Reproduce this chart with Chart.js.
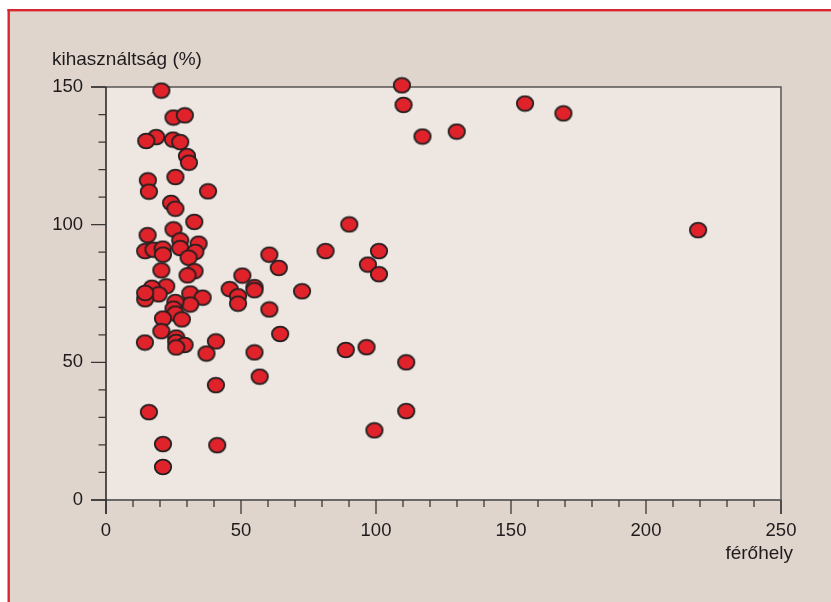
<!DOCTYPE html>
<html lang="hu">
<head>
<meta charset="utf-8">
<title>Férőhely és kihasználtság</title>
<script src="https://cdn.jsdelivr.net/npm/chart.js@4/dist/chart.umd.min.js"></script>
<style>
  html, body { margin: 0; padding: 0; background: #fff; }
  #wrap { position: relative; width: 831px; height: 602px; }
</style>
</head>
<body>
<div id="wrap"><canvas id="chart" width="831" height="602"></canvas></div>
<script>
  "use strict";

  // férőhely (x) és kihasználtság % (y)
  var ferohely = [
    20.5, 25.0, 29.2, 18.6, 14.9, 24.8, 27.5, 30.0, 30.7, 15.5,
    25.7, 15.9, 37.8, 24.1, 25.7, 32.7, 25.0, 15.4, 27.5, 27.5,
    34.3, 33.1, 14.5, 17.6, 21.0, 21.1, 30.6, 90.1, 60.5, 64.0,
    81.3, 101.1, 97.0, 101.1, 20.5, 32.8, 30.2, 50.5, 22.3, 17.0,
    19.5, 14.5, 14.5, 31.2, 35.8, 31.2, 25.7, 25.0, 25.7, 28.1,
    21.1, 45.8, 48.9, 48.9, 55.0, 55.0, 60.5, 72.6, 64.5, 20.5,
    26.0, 26.0, 29.1, 26.0, 14.4, 40.7, 37.2, 55.0, 88.8, 96.5,
    111.2, 56.9, 40.7, 15.9, 21.1, 41.2, 21.1, 111.2, 99.4, 109.6,
    110.2, 117.2, 129.9, 155.2, 169.4, 219.3
  ];
  var kihasznaltsag = [
    148.7, 138.9, 139.7, 131.8, 130.4, 130.9, 130.0, 124.9, 122.5, 116.1,
    117.3, 112.0, 112.1, 107.9, 105.8, 101.0, 98.3, 96.2, 94.3, 91.5,
    93.1, 90.1, 90.4, 90.9, 91.3, 89.1, 88.0, 100.1, 89.1, 84.3,
    90.4, 90.4, 85.5, 82.0, 83.4, 83.1, 81.6, 81.5, 77.6, 77.1,
    74.7, 72.9, 75.2, 75.0, 73.5, 71.0, 71.9, 69.5, 67.7, 65.6,
    65.9, 76.6, 74.0, 71.3, 77.3, 76.2, 69.2, 75.8, 60.3, 61.3,
    59.0, 57.4, 56.3, 55.4, 57.2, 57.6, 53.2, 53.6, 54.5, 55.5,
    50.0, 44.8, 41.7, 31.9, 20.3, 19.9, 12.0, 32.3, 25.3, 150.6,
    143.5, 132.0, 133.8, 144.0, 140.4, 98.0
  ];

  var xTitle = 'férőhely';
  var yTitle = 'kihasználtság (%)';
  var xRange = [0, 250];
  var yRange = [0, 150];
  var labelStep = 50;
  var tickStep = 10;

  var FONT = '"Liberation Sans", Arial, Helvetica, sans-serif';
  var TEXT = '#1f1b1c';

  // ellipszis alakú pont
  function makeDot() {
    var c = document.createElement('canvas');
    c.width = 20; c.height = 18;
    var g = c.getContext('2d');
    g.beginPath();
    g.ellipse(10, 9, 8.2, 7.4, 0, 0, Math.PI * 2);
    g.fillStyle = '#e0232a';
    g.fill();
    g.lineWidth = 1.8;
    g.strokeStyle = '#231f20';
    g.stroke();
    return c;
  }

  var points = ferohely.map(function(x, i) { return { x: x, y: kihasznaltsag[i] }; });

  /** háttér, keret, tengelyek, címek */
  var framePlugin = {
    id: 'frame',
    beforeDraw: function(chart) {
      var ctx = chart.ctx;
      var a = chart.chartArea;
      ctx.save();
      ctx.fillStyle = '#ffffff';
      ctx.fillRect(0, 0, chart.width, chart.height);
      ctx.fillStyle = '#dfd5cd';
      ctx.fillRect(9, 10, chart.width - 9, chart.height - 10);
      ctx.fillStyle = '#d8262e';
      ctx.fillRect(7.5, 9, 2.4, chart.height - 9);
      ctx.fillRect(7.5, 9, chart.width - 7.5, 2.4);
      ctx.fillStyle = '#ede6e1';
      ctx.fillRect(a.left, a.top, a.right - a.left, a.bottom - a.top);
      ctx.restore();
    },
    beforeDatasetsDraw: function(chart) {
      var ctx = chart.ctx;
      var a = chart.chartArea;
      var xs = chart.scales.x;
      var ys = chart.scales.y;
      ctx.save();
      ctx.lineCap = 'butt';

      // felső és jobb keret
      ctx.strokeStyle = '#5a5656';
      ctx.lineWidth = 1.5;
      ctx.beginPath();
      ctx.moveTo(a.left - 15, a.top);
      ctx.lineTo(a.right, a.top);
      ctx.lineTo(a.right, a.bottom + 14);
      ctx.stroke();

      // x tengely
      ctx.strokeStyle = '#6b6767';
      ctx.lineWidth = 2;
      ctx.beginPath();
      ctx.moveTo(a.left - 15, a.bottom);
      ctx.lineTo(a.right, a.bottom);
      ctx.stroke();

      // y tengely
      ctx.strokeStyle = '#231f20';
      ctx.lineWidth = 1.5;
      ctx.beginPath();
      ctx.moveTo(a.left, a.top);
      ctx.lineTo(a.left, a.bottom + 14);
      ctx.stroke();

      // osztások
      ctx.strokeStyle = '#3b3737';
      ctx.lineWidth = 1.3;
      ctx.beginPath();
      xs.ticks.forEach(function(t) {
        var px = xs.getPixelForValue(t.value);
        var len = t.value % labelStep === 0 ? 14 : 7;
        ctx.moveTo(px, a.bottom);
        ctx.lineTo(px, a.bottom + len);
      });
      ys.ticks.forEach(function(t) {
        var py = ys.getPixelForValue(t.value);
        var len = t.value % labelStep === 0 ? 15 : 7.5;
        ctx.moveTo(a.left, py);
        ctx.lineTo(a.left - len, py);
      });
      ctx.stroke();

      // tengelycímek
      ctx.fillStyle = TEXT;
      ctx.font = '19px ' + FONT;
      ctx.textBaseline = 'middle';
      ctx.textAlign = 'left';
      ctx.fillText(yTitle, 52, 60);
      ctx.textAlign = 'right';
      ctx.fillText(xTitle, 793, 554);
      ctx.restore();
    }
  };

  function tickLabel(v) {
    return v % labelStep === 0 ? String(v) : '';
  }

  new Chart(document.getElementById('chart'), {
    type: 'scatter',
    data: {
      datasets: [{
        label: yTitle,
        data: points,
        pointStyle: makeDot(),
        pointRadius: 8,
        pointHoverRadius: 8,
        clip: false
      }]
    },
    options: {
      responsive: false,
      animation: false,
      events: [],
      layout: { padding: { left: 0, top: 87, right: 50, bottom: 0 } },
      plugins: {
        legend: { display: false },
        tooltip: { enabled: false }
      },
      scales: {
        x: {
          type: 'linear',
          min: xRange[0],
          max: xRange[1],
          afterFit: function(s) { s.height = 102; },
          grid: { display: false },
          border: { display: false },
          ticks: {
            stepSize: tickStep,
            autoSkip: false,
            maxRotation: 0,
            padding: 12,
            color: TEXT,
            font: { family: FONT, size: 18.5 },
            callback: tickLabel
          }
        },
        y: {
          type: 'linear',
          min: yRange[0],
          max: yRange[1],
          afterFit: function(s) { s.width = 106; },
          grid: { display: false },
          border: { display: false },
          ticks: {
            stepSize: tickStep,
            autoSkip: false,
            padding: 15,
            color: TEXT,
            font: { family: FONT, size: 18.5 },
            callback: tickLabel
          }
        }
      }
    },
    plugins: [framePlugin]
  });
</script>
</body>
</html>
